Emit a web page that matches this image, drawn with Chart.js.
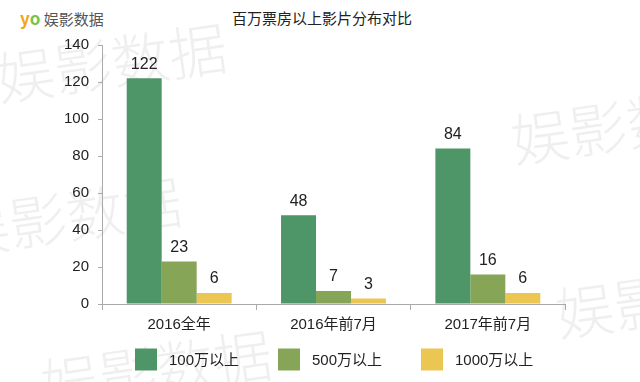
<!DOCTYPE html>
<html><head><meta charset="utf-8">
<script src="https://cdn.jsdelivr.net/npm/chart.js@4"></script>
<style>
html,body{margin:0;padding:0;background:#fff;width:640px;height:382px;overflow:hidden;font-family:"Liberation Sans","Noto Sans CJK SC",sans-serif;}
#wrap{position:absolute;left:0;top:0;width:640px;height:382px;}
.wm{position:absolute;color:#000;opacity:0.06;font-family:"Noto Sans CJK SC",sans-serif;font-weight:300;white-space:nowrap;}
#logo{position:absolute;left:20px;top:5px;font-size:15px;color:#555;font-family:"Noto Sans CJK SC",sans-serif;}
#logo b{font-weight:bold;font-size:17px;}
#title{position:absolute;left:222px;width:200px;top:7px;text-align:center;font-size:15px;color:#222;font-family:"Liberation Sans","Noto Sans CJK SC",sans-serif;}
</style></head><body>
<div class="wm" style="left:-5px;top:18px;font-size:58px;transform:rotate(-8deg);">娱影数据</div>
<div class="wm" style="left:-50px;top:172px;font-size:58px;transform:rotate(-8deg);">娱影数据</div>
<div class="wm" style="left:510px;top:80px;font-size:58px;transform:rotate(-8deg);">娱影数据</div>
<div class="wm" style="left:555px;top:262px;font-size:58px;transform:rotate(-8deg);">娱影</div>
<div class="wm" style="left:40px;top:325px;font-size:58px;transform:rotate(-8deg);">娱影数据</div>
<div id="logo"><b style="color:#f2a51f">y</b><b style="color:#7cc24a">o</b> 娱影数据</div>
<div id="title">百万票房以上影片分布对比</div>
<div id="wrap"><canvas id="c" width="640" height="382"></canvas></div>
<script>
const categories = ["2016全年", "2016年前7月", "2017年前7月"];
const seriesNames = ["100万以上", "500万以上", "1000万以上"];
const s100 = [122, 48, 84];
const s500 = [23, 7, 16];
const s1000 = [6, 3, 6];
const yTicks = [0, 20, 40, 60, 80, 100, 120, 140];
const colors = ["#4e9567", "#86a556", "#ebc653"];

const FONT = '"Liberation Sans","Noto Sans CJK SC",sans-serif';

const valueLabels = {
  id: 'valueLabels',
  afterDatasetsDraw(chart) {
    const ctx = chart.ctx;
    ctx.save();
    ctx.font = '16px ' + FONT;
    ctx.fillStyle = '#222';
    ctx.textAlign = 'center';
    ctx.textBaseline = 'bottom';
    chart.data.datasets.forEach((ds, i) => {
      const meta = chart.getDatasetMeta(i);
      meta.data.forEach((bar, j) => {
        ctx.fillText(String(ds.data[j]), bar.x, bar.y - 6);
      });
    });
    ctx.restore();
  }
};

// legend drawn from the chart's datasets, laid out like the reference
const bottomLegend = {
  id: 'bottomLegend',
  afterDraw(chart) {
    const ctx = chart.ctx;
    const startX = 135, step = 143, box = 22, cy = 359.5;
    ctx.save();
    ctx.font = '15px ' + FONT;
    ctx.textAlign = 'left';
    ctx.textBaseline = 'middle';
    chart.data.datasets.forEach((ds, i) => {
      const x = startX + i * step;
      ctx.fillStyle = ds.backgroundColor;
      ctx.fillRect(x, cy - box / 2, box, box);
      ctx.fillStyle = '#222';
      ctx.fillText(ds.label, x + 34, cy + 1);
    });
    ctx.restore();
  }
};

new Chart(document.getElementById('c'), {
  type: 'bar',
  data: {
    labels: categories,
    datasets: [
      {label: seriesNames[0], data: s100, backgroundColor: colors[0]},
      {label: seriesNames[1], data: s500, backgroundColor: colors[1]},
      {label: seriesNames[2], data: s1000, backgroundColor: colors[2]}
    ]
  },
  options: {
    responsive: false,
    animation: false,
    devicePixelRatio: 1,
    layout: {padding: {left: 55, right: 75, top: 45, bottom: 42}},
    datasets: {bar: {categoryPercentage: 0.68, barPercentage: 1.0}},
    plugins: {
      title: {display: false},
      legend: {display: false},
      tooltip: {enabled: false}
    },
    scales: {
      x: {
        grid: {display: true, drawOnChartArea: false, drawTicks: true, tickLength: 6, color: '#aaa', offset: true},
        border: {display: true, color: '#aaa'},
        ticks: {color: '#222', font: {size: 15, family: FONT}, padding: 6}
      },
      y: {
        min: 0, max: 140,
        afterBuildTicks(axis) { axis.ticks = yTicks.map(v => ({value: v})); },
        grid: {display: true, drawOnChartArea: false, drawTicks: true, tickLength: 4, color: '#aaa'},
        border: {display: true, color: '#aaa'},
        ticks: {color: '#222', font: {size: 15, family: FONT}, padding: 9}
      }
    }
  },
  plugins: [valueLabels, bottomLegend]
});
</script>
</body></html>
